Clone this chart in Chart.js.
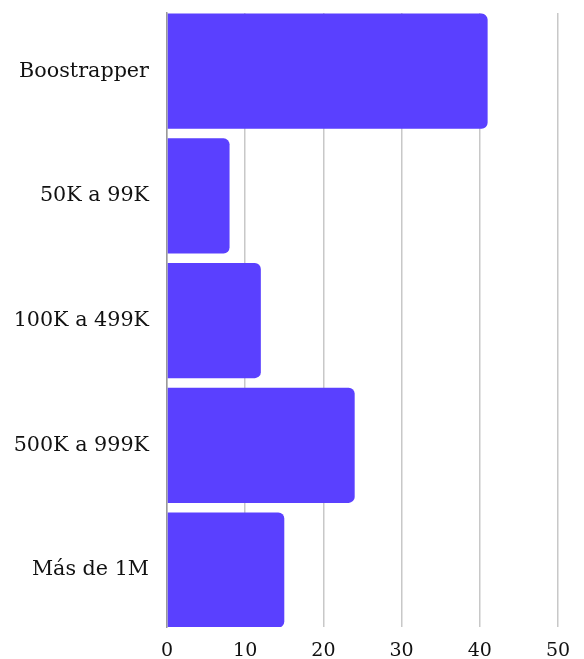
<!DOCTYPE html>
<html>
<head>
<meta charset="utf-8">
<script src="https://cdn.jsdelivr.net/npm/chart.js@4"></script>
<style>
  html, body { margin: 0; padding: 0; background: #fff; }
  #wrap { width: 584px; height: 659px; position: relative; }
</style>
</head>
<body>
<div id="wrap"><canvas id="chart"></canvas></div>
<script>
var categories = ["Boostrapper", "50K a 99K", "100K a 499K", "500K a 999K", "Más de 1M"];
var values = [41, 8, 12, 24, 15];
var xTicks = [0, 10, 20, 30, 40, 50];

var ctx = document.getElementById("chart");
var myChart = new Chart(ctx, {
  type: "bar",
  data: {
    labels: categories,
    datasets: [
      {
        data: values,
        backgroundColor: "#5a40ff",
        borderRadius: 6,
        barPercentage: 0.922,
        categoryPercentage: 1,
      },
    ],
  },
  options: {
    indexAxis: "y",
    responsive: true,
    maintainAspectRatio: false,
    animation: false,
    layout: { padding: { top: 13, right: 26, left: 0, bottom: 0 } },
    plugins: { legend: { display: false }, tooltip: { enabled: false } },
    scales: {
      x: {
        min: xTicks[0],
        max: xTicks[xTicks.length - 1],
        ticks: {
          stepSize: 10,
          padding: 13,
          color: "#111",
          font: { family: "DejaVu Serif", size: 19 },
        },
        grid: { color: "#c8c8c8", lineWidth: 1.5, drawTicks: false },
        border: { display: false },
        afterFit: function (scale) { scale.height = 32; scale.paddingRight = 0; },
      },
      y: {
        ticks: {
          padding: 18,
          color: "#111",
          font: { family: "DejaVu Serif", size: 20.7 },
        },
        grid: { display: false, drawTicks: false },
        border: { display: true, color: "#999", width: 1.5 },
        // bars touch the top and bottom of the plot, gaps only between them
        afterBuildTicks: function (scale) {
          scale._startValue = -0.466;
          scale._valueRange = 4.922;
        },
        afterFit: function (scale) {
          scale.width = 167;
          scale.paddingTop = 0;
          scale.paddingBottom = 0;
        },
      },
    },
  },
});
</script>
</body>
</html>
